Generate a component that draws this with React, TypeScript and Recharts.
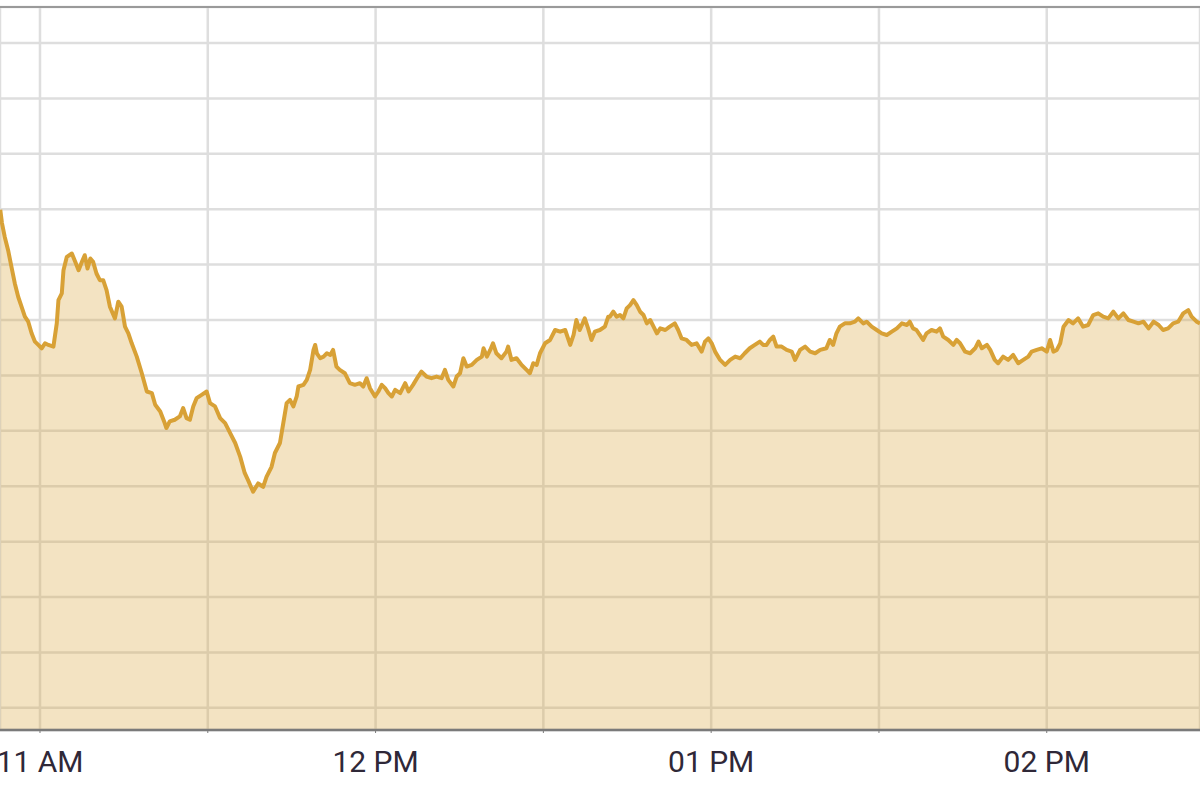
import { AreaChart, Area, XAxis, YAxis, CartesianGrid, ReferenceLine } from 'recharts';

// minutes since midnight (10:53 .. 14:27)
const times = [
  // 10:53 - 11:06
  652.9, 653.2, 653.7, 654.3, 654.9, 655.5, 656.1, 656.7, 657.3, 657.9,
  658.5, 659.1, 659.7, 660.3, 660.9, 661.5, 662.4, 663.0, 663.3, 663.9,
  664.2, 664.8, 665.7, 666.3, 666.9, 667.5, 668.0, 668.5, 669.0, 669.5,
  670.1, 670.7, 671.3, 671.9, 672.5, 673.4, 674.0, 674.6, 675.2, 675.8,
  676.4, 677.3, 678.2, 679.1, 680.0, 680.6, 681.5, 682.3, 682.6, 683.2,
  684.1, 685.0, 685.6, 686.2, 686.8, 687.4, 688.0, 688.9, 689.8, 690.4,
  691.3, 692.2, 693.1, 694.0, 694.9, 695.8, 696.6, 697.2, 698.1, 699.0,
  699.9, 700.5, 701.4, 702.0, 702.9, 703.5, 704.1, 704.7, 705.3, 705.9,
  // 11:46 - 12:41
  706.2, 707.1, 707.7, 708.3, 708.9, 709.2, 709.5, 710.1, 710.7, 711.3,
  711.9, 712.4, 712.7, 713.0, 713.6, 714.5, 715.4, 716.3, 717.2, 717.8,
  718.4, 719.0, 719.9, 720.5, 721.1, 721.7, 722.3, 722.9, 723.5, 724.4,
  725.3, 725.9, 726.7, 727.6, 728.2, 729.1, 730.0, 730.9, 731.8, 732.4,
  733.0, 733.9, 734.5, 735.1, 735.7, 736.3, 737.2, 738.1, 739.0, 739.3,
  739.9, 740.5, 741.0, 741.6, 742.5, 743.4, 743.7, 744.3, 745.2, 746.1,
  747.0, 747.6, 748.2, 748.8, 749.4, 750.3, 751.2, 752.1, 753.0, 753.9,
  754.8, 755.4, 755.9, 756.5, 757.4, 758.0, 758.6, 759.2, 760.1, 761.0,
  761.6,
  // 12:42 - 13:33
  761.9, 762.5, 763.1, 763.7, 764.3, 764.9, 765.5, 766.1, 766.7, 767.3,
  767.9, 768.5, 769.1, 769.7, 770.3, 770.9, 771.8, 772.6, 773.5, 774.1,
  774.7, 775.6, 776.5, 777.4, 778.3, 778.9, 779.5, 780.1, 780.7, 781.6,
  782.5, 783.4, 784.3, 785.2, 786.0, 786.9, 787.8, 788.7, 789.3, 789.9,
  790.5, 791.1, 791.7, 792.6, 793.5, 794.4, 795.0, 795.9, 796.8, 797.7,
  798.6, 799.5, 800.6, 801.2, 801.8, 802.4, 803.0, 803.9, 804.8, 805.7,
  806.3, 807.2, 807.8, 808.7, 809.6, 810.5, 811.4, 812.3, 813.2,
  // 13:34 - 14:27
  814.1, 815.0, 815.5, 816.1, 816.7, 817.3, 817.9, 818.5, 819.4, 820.3,
  820.9, 821.5, 822.4, 823.3, 823.9, 824.5, 825.4, 826.3, 827.2, 827.8,
  828.4, 829.3, 829.9, 830.7, 831.3, 832.2, 833.1, 834.0, 834.9, 835.8,
  836.7, 837.3, 838.2, 839.1, 840.0, 840.6, 841.2, 841.8, 842.4, 843.0,
  843.9, 844.7, 845.6, 846.5, 847.4, 848.3, 849.2, 850.1, 851.0, 851.9,
  852.8, 853.7, 854.6, 855.5, 856.4, 857.3, 858.2, 859.1, 860.0, 860.8,
  861.7, 862.6, 863.5, 864.4, 865.3, 865.9, 866.8, 867.4,
];

const prices = [
  1778.99, 1778.75, 1778.50, 1778.26, 1777.96, 1777.66, 1777.42, 1777.24, 1777.06, 1776.97,
  1776.76, 1776.61, 1776.55, 1776.49, 1776.58, 1776.55, 1776.52, 1776.94, 1777.36, 1777.48,
  1777.90, 1778.14, 1778.20, 1778.05, 1777.90, 1778.05, 1778.17, 1777.93, 1778.11, 1778.05,
  1777.84, 1777.72, 1777.72, 1777.54, 1777.24, 1777.03, 1777.33, 1777.24, 1776.88, 1776.76,
  1776.58, 1776.34, 1776.04, 1775.71, 1775.68, 1775.47, 1775.35, 1775.14, 1775.05, 1775.17,
  1775.20, 1775.26, 1775.41, 1775.23, 1775.20, 1775.44, 1775.59, 1775.65, 1775.71, 1775.50,
  1775.44, 1775.23, 1775.14, 1774.96, 1774.78, 1774.53, 1774.24, 1774.11, 1773.90, 1774.05,
  1773.99, 1774.17, 1774.35, 1774.60, 1774.78, 1775.14, 1775.50, 1775.56, 1775.44, 1775.62,

  1775.80, 1775.83, 1775.92, 1776.10, 1776.46, 1776.55, 1776.40, 1776.31, 1776.34, 1776.40,
  1776.37, 1776.46, 1776.31, 1776.16, 1776.10, 1776.04, 1775.86, 1775.83, 1775.86, 1775.80,
  1775.95, 1775.77, 1775.62, 1775.71, 1775.83, 1775.77, 1775.68, 1775.62, 1775.74, 1775.68,
  1775.86, 1775.71, 1775.83, 1775.98, 1776.07, 1775.98, 1775.95, 1775.98, 1775.95, 1776.10,
  1775.92, 1775.80, 1775.98, 1776.04, 1776.31, 1776.16, 1776.19, 1776.28, 1776.34, 1776.49,
  1776.34, 1776.46, 1776.58, 1776.40, 1776.31, 1776.43, 1776.52, 1776.28, 1776.31, 1776.19,
  1776.10, 1776.04, 1776.22, 1776.19, 1776.40, 1776.58, 1776.64, 1776.82, 1776.79, 1776.82,
  1776.55, 1776.73, 1777.00, 1776.82, 1777.03, 1776.85, 1776.64, 1776.79, 1776.82, 1776.88,
  1777.06,

  1777.06, 1777.15, 1777.06, 1777.09, 1777.03, 1777.21, 1777.27, 1777.36, 1777.27, 1777.15,
  1777.09, 1776.94, 1777.00, 1776.88, 1776.76, 1776.85, 1776.82, 1776.88, 1776.94, 1776.82,
  1776.67, 1776.64, 1776.55, 1776.58, 1776.43, 1776.61, 1776.67, 1776.58, 1776.43, 1776.28,
  1776.19, 1776.28, 1776.34, 1776.31, 1776.40, 1776.49, 1776.55, 1776.61, 1776.55, 1776.55,
  1776.64, 1776.70, 1776.52, 1776.52, 1776.46, 1776.43, 1776.28, 1776.46, 1776.52, 1776.43,
  1776.40, 1776.46, 1776.49, 1776.64, 1776.55, 1776.76, 1776.88, 1776.94, 1776.94, 1776.97,
  1777.03, 1776.94, 1776.97, 1776.88, 1776.82, 1776.76, 1776.73, 1776.79, 1776.85,

  1776.94, 1776.91, 1776.97, 1776.85, 1776.82, 1776.73, 1776.64, 1776.76, 1776.82, 1776.79,
  1776.85, 1776.70, 1776.64, 1776.55, 1776.64, 1776.58, 1776.43, 1776.40, 1776.49, 1776.61,
  1776.49, 1776.55, 1776.46, 1776.28, 1776.22, 1776.34, 1776.28, 1776.37, 1776.22, 1776.28,
  1776.34, 1776.43, 1776.46, 1776.49, 1776.43, 1776.64, 1776.43, 1776.46, 1776.58, 1776.88,
  1777.00, 1776.94, 1777.03, 1776.88, 1776.91, 1777.09, 1777.12, 1777.06, 1777.03, 1777.15,
  1777.03, 1777.12, 1777.00, 1776.97, 1776.94, 1776.97, 1776.85, 1776.97, 1776.91, 1776.82,
  1776.85, 1776.94, 1776.97, 1777.12, 1777.18, 1777.06, 1776.97, 1776.94,
];

const xTicks = [660, 690, 720, 750, 780, 810, 840];
const xLabels: Record<number, string> = { 660: '11 AM', 720: '12 PM', 780: '01 PM', 840: '02 PM' };
const yTicks = [1770, 1771, 1772, 1773, 1774, 1775, 1776, 1777, 1778, 1779, 1780, 1781, 1782];

const X_MIN = 652.85;
const X_MAX = 867.4;
const Y_MIN = 1769.6;
const Y_MAX = 1782.65;

const LINE = '#d8a136';

export default function App() {
  const data = times.map((t, i) => ({ t, price: prices[i] }));

  return (
    <div style={{ position: 'absolute', left: 0, top: 0, width: 1200, height: 799, overflow: 'hidden', background: '#fff' }}>
      <AreaChart width={1200} height={799} data={data} margin={{ top: 7, right: 0, bottom: 9, left: 0 }}>
        <CartesianGrid stroke="#dedede" strokeWidth={2.5} />
        <XAxis
          dataKey="t"
          type="number"
          domain={[X_MIN, X_MAX]}
          allowDataOverflow
          ticks={xTicks}
          interval={0}
          tickFormatter={(v: number) => xLabels[v] || ''}
          height={60}
          axisLine={{ stroke: '#7a7a7a', strokeWidth: 2.5 }}
          tickLine={{ stroke: '#7a7a7a' }}
          tickSize={3}
          tickMargin={18}
          tick={{ fill: '#2f2838', fontSize: 30, fontFamily: 'Roboto, Arial, sans-serif' }}
        />
        <YAxis hide domain={[Y_MIN, Y_MAX]} ticks={yTicks} allowDataOverflow />
        <ReferenceLine y={Y_MAX} stroke="#9a9a9a" strokeWidth={2} />
        <Area
          type="linear"
          dataKey="price"
          stroke={LINE}
          strokeWidth={4}
          strokeLinejoin="round"
          fill={LINE}
          fillOpacity={0.3}
          isAnimationActive={false}
          dot={false}
          activeDot={false}
        />
      </AreaChart>
    </div>
  );
}
